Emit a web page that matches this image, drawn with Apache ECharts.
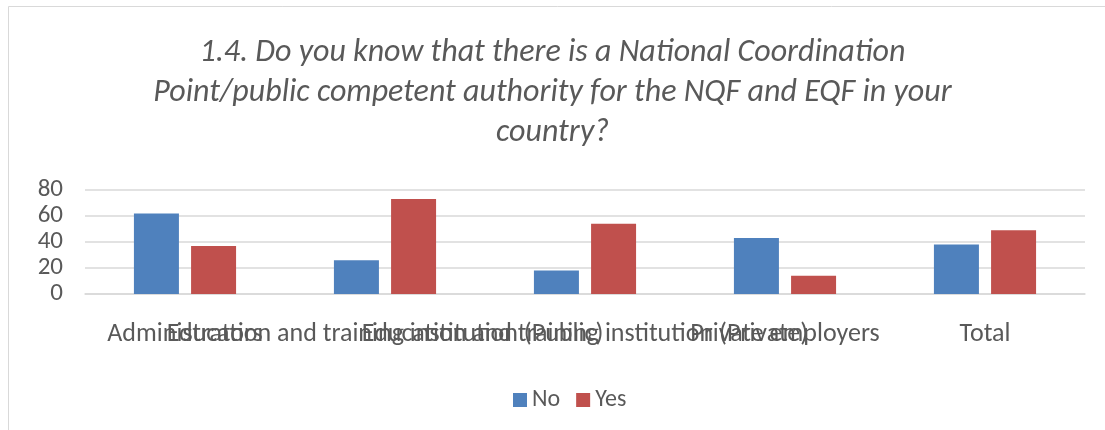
<!DOCTYPE html>
<html>
<head>
<meta charset="utf-8">
<script src="https://cdn.jsdelivr.net/npm/echarts@6/dist/echarts.min.js"></script>
<style>
html, body { margin: 0; padding: 0; background: #fff; }
#main { width: 1105px; height: 430px; }
</style>
</head>
<body>
<div id="main"></div>
<script>
var categories = ['Administrators', 'Education and training institution (Public)', 'Education and training institution (Private)', 'Private employers', 'Total'];
var noValues = [62, 26, 18, 43, 38];
var yesValues = [37, 73, 54, 14, 49];
var yTicks = [0, 20, 40, 60, 80];

var font = 'Carlito, "Liberation Sans Narrow", "DejaVu Sans Condensed", "Liberation Sans", sans-serif';
var textGrey = '#595959';

var myChart = echarts.init(document.getElementById('main'));

var option = {
	backgroundColor: '#fff',
	color: ['#4f81bd', '#c0504d'],
	textStyle: { fontFamily: font },
	graphic: [{
		type: 'rect',
		shape: { x: 8.5, y: 6.5, width: 1110, height: 440 },
		style: { fill: 'none', stroke: '#d9d9d9', lineWidth: 1 },
		silent: true
	}],
	title: {
		text: '1.4. Do you know that there is a National Coordination\nPoint/public competent authority for the NQF and EQF in your\ncountry?',
		left: 'center',
		top: 28,
		textStyle: {
			color: textGrey,
			fontStyle: 'italic',
			fontWeight: 'normal',
			fontSize: 32,
			lineHeight: 40,
			fontFamily: font
		}
	},
	legend: {
		data: ['No', 'Yes'],
		top: 383,
		left: 508,
		itemWidth: 14,
		itemHeight: 14,
		itemGap: 16,
		icon: 'rect',
		textStyle: { color: textGrey, fontSize: 24, fontFamily: font }
	},
	grid: { left: 85, right: 20, top: 190, bottom: 136 },
	xAxis: {
		type: 'category',
		data: categories,
		axisLine: { lineStyle: { color: '#d9d9d9', width: 1.5 } },
		axisTick: { show: false },
		axisLabel: {
			interval: 0,
			color: textGrey,
			fontSize: 26,
			margin: 27,
			overflow: 'none',
			hideOverlap: false
		}
	},
	yAxis: {
		type: 'value',
		min: yTicks[0],
		max: yTicks[yTicks.length - 1],
		interval: 20,
		axisLine: { show: false },
		axisTick: { show: false },
		splitLine: { lineStyle: { color: '#d9d9d9', width: 1.5 } },
		axisLabel: { color: textGrey, fontSize: 25, margin: 22 }
	},
	series: [
		{ name: 'No', type: 'bar', data: noValues, barWidth: '22.5%', barGap: '27%' },
		{ name: 'Yes', type: 'bar', data: yesValues, barWidth: '22.5%', barGap: '27%' }
	]
};

myChart.setOption(option);
window.onresize = myChart.resize;
</script>
</body>
</html>
